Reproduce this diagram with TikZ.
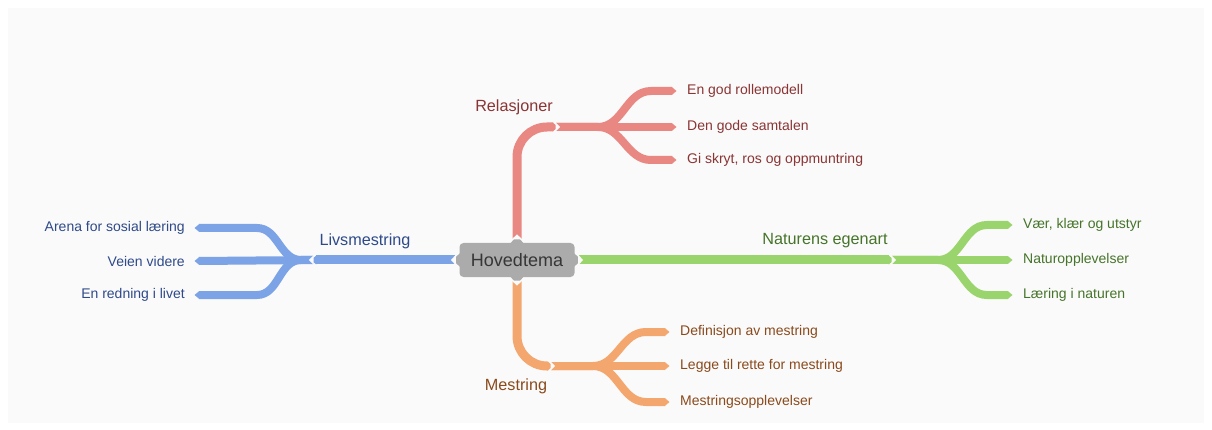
\documentclass[tikz,border=0pt]{standalone}
\usepackage{fontspec}
\setmainfont{Liberation Sans}
\usetikzlibrary{calc}
\definecolor{bgin}{HTML}{FAFAFA}
\definecolor{hubfill}{HTML}{ABABAB}
\definecolor{hubtext}{HTML}{363636}
\definecolor{redb}{HTML}{E98882}
\definecolor{redt}{HTML}{8B3434}
\definecolor{greenb}{HTML}{9AD46C}
\definecolor{greent}{HTML}{46742A}
\definecolor{blueb}{HTML}{7BA3E6}
\definecolor{bluet}{HTML}{2E4A8A}
\definecolor{orangeb}{HTML}{F3A76E}
\definecolor{oranget}{HTML}{8A4A1C}
\tikzset{
  hub/.style={fill=hubfill, rounded corners=4pt, minimum width=115pt, minimum height=34pt,
    inner sep=0pt, text=hubtext, font=\fontsize{18}{20}\selectfont},
  mainlbl/.style={inner sep=0pt, font=\fontsize{16.2}{19}\selectfont},
  leaf/.style={inner sep=0pt, font=\fontsize{14}{16}\selectfont},
  stem/.style={line width=9pt},
  fanb/.style={line width=8pt},
}
% tip: color, point, angle, half width
\newcommand\mytip[4]{\fill[#1, shift={(#2)}, rotate=#3] (-0.3,-#4) -- (#4+0.5,0) -- (-0.3,#4) -- cycle;}
% notch cut at start of a line
\newcommand\mynotch[3]{\fill[bgin, shift={(#1)}, rotate=#2] (-0.5,-#3-0.6) -- (#3,0) -- (-0.5,#3+0.6) -- cycle;}
\begin{document}
\begin{tikzpicture}[x=1pt,y=-1pt]
\useasboundingbox (0,0) rectangle (1212,430);
\fill[white] (0,0) rectangle (1212,430);
\fill[bgin] (8,8) rectangle (1204,423);

% hub
\node[hub] (c) at (517,260) {Hovedtema};
\fill[hubfill] ($(c.north)+(-7,1)$) -- ($(c.north)+(0,-7)$) -- ($(c.north)+(7,1)$) -- cycle;
\fill[hubfill] ($(c.south)+(-7,-1)$) -- ($(c.south)+(0,7)$) -- ($(c.south)+(7,-1)$) -- cycle;
\fill[hubfill] ($(c.west)+(1,-7)$) -- ($(c.west)+(-7,0)$) -- ($(c.west)+(1,7)$) -- cycle;
\fill[hubfill] ($(c.east)+(-1,-7)$) -- ($(c.east)+(7,0)$) -- ($(c.east)+(-1,7)$) -- cycle;

% main labels
\node[mainlbl, text=redt] (rel) at (514,107) {Relasjoner};
\node[mainlbl, text=bluet] (liv) at (365,241) {Livsmestring};
\node[mainlbl, text=greent] (nat) at (825,241) {Naturens egenart};
\node[mainlbl, text=oranget] (mes) at (516,386) {Mestring};

% leaves
\node[leaf, text=redt, anchor=west] (r1) at (687,91) {En god rollemodell};
\node[leaf, text=redt, anchor=west] (r2) at (687,127) {Den gode samtalen};
\node[leaf, text=redt, anchor=west] (r3) at (687,160) {Gi skryt, ros og oppmuntring};
\node[leaf, text=greent, anchor=west] (n1) at (1023,225) {Vær, klær og utstyr};
\node[leaf, text=greent, anchor=west] (n2) at (1023,260) {Naturopplevelser};
\node[leaf, text=greent, anchor=west] (n3) at (1023,295) {Læring i naturen};
\node[leaf, text=bluet, anchor=east] (l1) at (185,228) {Arena for sosial læring};
\node[leaf, text=bluet, anchor=east] (l2) at (185,261) {Veien videre};
\node[leaf, text=bluet, anchor=east] (l3) at (185,295) {En redning i livet};
\node[leaf, text=oranget, anchor=west] (m1) at (680,332) {Definisjon av mestring};
\node[leaf, text=oranget, anchor=west] (m2) at (680,366) {Legge til rette for mestring};
\node[leaf, text=oranget, anchor=west] (m3) at (680,402) {Mestringsopplevelser};

% junction coordinates
\coordinate (rs) at ($(c.north)+(0,-4)$);
\coordinate (ms) at ($(c.south)+(0,4)$);
\coordinate (ls) at ($(c.west)+(-4,0)$);
\coordinate (ns) at ($(c.east)+(4,0)$);
\coordinate (rj) at (553,127);
\coordinate (rf) at (556,127);
\coordinate (nj) at (889,260);
\coordinate (nf) at (892,260);
\coordinate (lj) at (316,260);
\coordinate (lf) at (313,260);
\coordinate (mj) at (548,366);
\coordinate (mf) at (551,366);

% stems
\draw[stem, redb, rounded corners=30pt] (rs) |- (rj);
\mynotch{rs}{90}{4.5}
\mytip{redb}{rj}{0}{4.5}
\draw[stem, orangeb, rounded corners=30pt] (ms) |- (mj);
\mynotch{ms}{-90}{4.5}
\mytip{orangeb}{mj}{0}{4.5}
\draw[stem, blueb] (ls) -- (lj);
\mynotch{ls}{180}{4.5}
\mytip{blueb}{lj}{180}{4.5}
\draw[stem, greenb] (ns) -- (nj);
\mynotch{ns}{0}{4.5}
\mytip{greenb}{nj}{0}{4.5}

% red fan
\draw[fanb, redb] (rf) -- ++(42,0) to[out=0,in=180] ($(r1.west)+(-36,0)$) -- ($(r1.west)+(-15,0)$);
\draw[fanb, redb] (rf) -- ($(r2.west)+(-15,0)$);
\draw[fanb, redb] (rf) -- ++(42,0) to[out=0,in=180] ($(r3.west)+(-36,0)$) -- ($(r3.west)+(-15,0)$);
\mynotch{rf}{0}{4}
\mytip{redb}{$(r1.west)+(-15,0)$}{0}{4}
\mytip{redb}{$(r2.west)+(-15,0)$}{0}{4}
\mytip{redb}{$(r3.west)+(-15,0)$}{0}{4}
% orange fan
\draw[fanb, orangeb] (mf) -- ++(42,0) to[out=0,in=180] ($(m1.west)+(-34,0)$) -- ($(m1.west)+(-15,0)$);
\draw[fanb, orangeb] (mf) -- ($(m2.west)+(-15,0)$);
\draw[fanb, orangeb] (mf) -- ++(42,0) to[out=0,in=180] ($(m3.west)+(-34,0)$) -- ($(m3.west)+(-15,0)$);
\mynotch{mf}{0}{4}
\mytip{orangeb}{$(m1.west)+(-15,0)$}{0}{4}
\mytip{orangeb}{$(m2.west)+(-15,0)$}{0}{4}
\mytip{orangeb}{$(m3.west)+(-15,0)$}{0}{4}
% green fan
\draw[fanb, greenb] (nf) -- ++(46,0) to[out=0,in=180] ($(n1.west)+(-36,0)$) -- ($(n1.west)+(-15,0)$);
\draw[fanb, greenb] (nf) -- ($(n2.west)+(-15,0)$);
\draw[fanb, greenb] (nf) -- ++(46,0) to[out=0,in=180] ($(n3.west)+(-36,0)$) -- ($(n3.west)+(-15,0)$);
\mynotch{nf}{0}{4}
\mytip{greenb}{$(n1.west)+(-15,0)$}{0}{4}
\mytip{greenb}{$(n2.west)+(-15,0)$}{0}{4}
\mytip{greenb}{$(n3.west)+(-15,0)$}{0}{4}
% blue fan
\draw[fanb, blueb] (lf) -- ++(-12,0) to[out=180,in=0] ($(l1.east)+(72,0)$) -- ($(l1.east)+(14,0)$);
\draw[fanb, blueb] (lf) -- ($(l2.east)+(14,0)$);
\draw[fanb, blueb] (lf) -- ++(-12,0) to[out=180,in=0] ($(l3.east)+(72,0)$) -- ($(l3.east)+(14,0)$);
\mynotch{lf}{180}{4}
\mytip{blueb}{$(l1.east)+(14,0)$}{180}{4}
\mytip{blueb}{$(l2.east)+(14,0)$}{180}{4}
\mytip{blueb}{$(l3.east)+(14,0)$}{180}{4}
\end{tikzpicture}
\end{document}
